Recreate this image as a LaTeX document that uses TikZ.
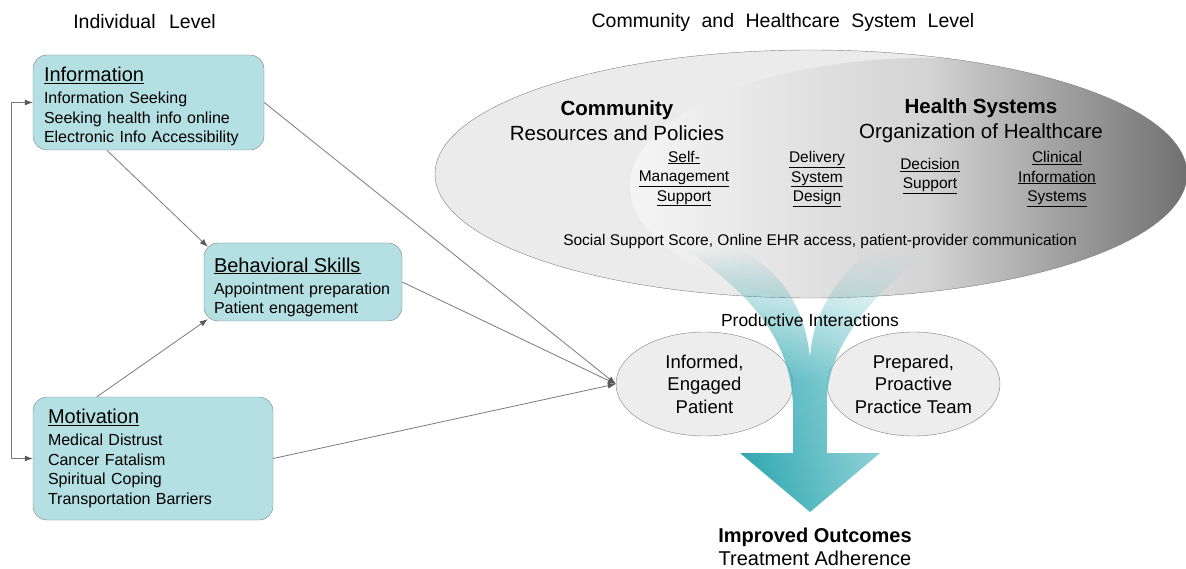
\documentclass[tikz,border=0pt]{standalone}
\usepackage{fontspec}
\setmainfont{Liberation Sans}
\usetikzlibrary{calc,positioning,shapes.geometric,arrows.meta,fadings}

\definecolor{boxfill}{HTML}{B4E0E4}
\definecolor{boxline}{HTML}{808080}
\definecolor{ellfill}{HTML}{EDEDED}
\definecolor{linkgray}{HTML}{7A7A7A}
\definecolor{tealdark}{HTML}{00929D}
\definecolor{teallight}{HTML}{A6DCE1}

\newcommand{\fsz}[2]{\fontsize{#1}{#2}\selectfont}

\tikzfading[name=fadeup, top color=transparent!100, bottom color=transparent!0, middle color=transparent!15]

\tikzset{
  >={Latex[length=8pt,width=6pt,color=black!65]},
  box/.style={draw=boxline, fill=boxfill, rounded corners=14pt, align=left, inner ysep=0pt, font=\fsz{16}{19.5}},
  oval/.style={ellipse, draw=boxline, fill=ellfill, inner sep=0pt, align=center, font=\fsz{18.5}{22.5}},
  link/.style={draw=linkgray, line width=0.8pt, ->},
  kc/.style={align=center, font=\fsz{15.5}{19.5}},
  head/.style={align=center, font=\fsz{20.5}{25}}
}

\begin{document}
\begin{tikzpicture}[x=1pt,y=-1pt]
\useasboundingbox (0,0) rectangle (1186,569);

% community / health systems
\fill[black!8] (811,174) ellipse [x radius=376pt, y radius=124pt];
\begin{scope}
\clip (811,174) ellipse [x radius=376pt, y radius=124pt];
\shade[left color=black!4, right color=black!62, middle color=black!17] (928,186) ellipse [x radius=298pt, y radius=128pt];
\end{scope}
\draw[boxline] (811,174) ellipse [x radius=376pt, y radius=124pt];

\node[font=\fsz{19.5}{23}] (indlev) at (144.5,22) {Individual\hspace{8pt} Level};
\node[font=\fsz{19.5}{23}] (syslev) at (783,22) {Community\hspace{6pt} and\hspace{6pt} Healthcare\hspace{6pt} System\hspace{6pt} Level};

\node[head] (comm) at (617,120.5) {\textbf{Community}\\Resources and Policies};
\node[head] (hsys) at (981,121) {\textbf{Health Systems}\\Organization of Healthcare};
\node[kc] (selfm) at (684,178.5) {\underline{Self-}\\\underline{Management}\\\underline{Support}};
\node[kc] (deliv) at (817,179) {\underline{Delivery}\\\underline{System}\\\underline{Design}};
\node[kc] (decis) at (930,176) {\underline{Decision}\\\underline{Support}};
\node[kc] (clin) at (1057,179) {\underline{Clinical}\\\underline{Information}\\\underline{Systems}};
\node[kc] (social) at (820,241) {Social Support Score, Online EHR access, patient-provider communication};

% interactions
\node[oval, minimum width=177pt, minimum height=104pt] (patient) at (704.5,384) {Informed,\\Engaged\\Patient};
\node[oval, minimum width=173pt, minimum height=104pt] (team) at (913.5,384) {Prepared,\\Proactive\\Practice Team};

\shade[left color=tealdark, right color=teallight, path fading=fadeup]
  (688,250) .. controls (735,285) and (793,330) .. (793,410) -- (793,453) -- (740,453)
  -- (810,512) -- (880,453) -- (827,453) -- (827,400)
  .. controls (827,350) and (870,295) .. (925,255) -- (865,255)
  .. controls (830,285) and (812,320) .. (810,358)
  .. controls (805,310) and (785,275) .. (742,250) -- cycle;

\node[font=\fsz{17.5}{21}] (prod) at (810,320) {Productive Interactions};
\node[align=center, font=\fsz{20}{23.5}] (outc) at (815,547) {\textbf{Improved Outcomes}\\Treatment Adherence};

% individual level
\node[box, text width=209pt, inner xsep=11pt, minimum height=95pt] (info) at (148.5,102.5)
  {{\fsz{20}{24}\rule{0pt}{23pt}\underline{Information}}\\[2.5pt] Information Seeking\\ Seeking health info online\\ Electronic Info Accessibility};
\node[box, text width=178pt, inner xsep=10pt, minimum height=78pt] (behav) at (303,282)
  {{\fsz{20}{24}\rule{0pt}{25pt}\underline{Behavioral Skills}}\\[2.5pt] Appointment preparation\\ Patient engagement};
\node[box, text width=210pt, inner xsep=15pt, minimum height=123pt] (motiv) at (153,458.5)
  {{\fsz{20}{24}\underline{Motivation}}\\[2.5pt] Medical Distrust\\ Cancer Fatalism\\ Spiritual Coping\\ Transportation Barriers};

\draw[link] ($(info.south west)+(74,0)$) -- ($(behav.north west)+(4,4)$);
\draw[link] ($(motiv.north west)+(64,0)$) -- ($(behav.south west)+(4,-2)$);
\draw[link] (info.east) -- (patient.west);
\draw[link] (behav.east) -- (patient.west);
\draw[link] (motiv.east) -- (patient.west);
\draw[link, <->] (info.west) -- ++(-21,0) |- (motiv.west);
\end{tikzpicture}
\end{document}
